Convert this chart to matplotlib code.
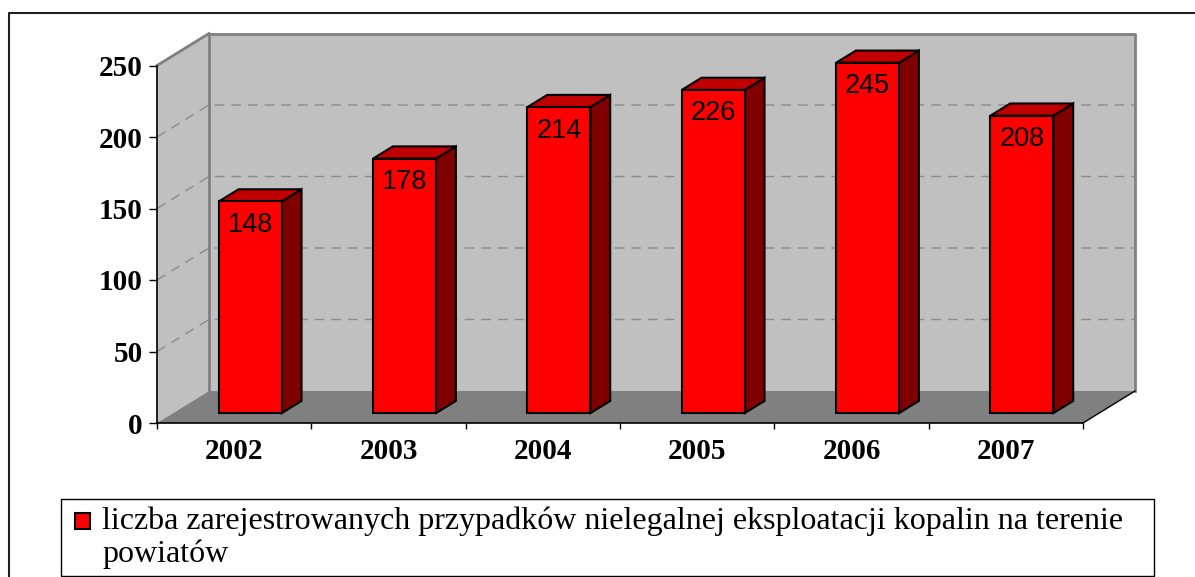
import matplotlib.pyplot as plt
from matplotlib.patches import Polygon, Rectangle
from matplotlib.lines import Line2D

years = ["2002", "2003", "2004", "2005", "2006", "2007"]
cases = [148, 178, 214, 226, 245, 208]
y_ticks = [0, 50, 100, 150, 200, 250]
legend_label = ("liczba zarejestrowanych przypadków nielegalnej eksploatacji kopalin na terenie\n"
                "powiatów")

W, H = 1195, 577
fig = plt.figure(figsize=(W / 100, H / 100), dpi=100)
ax = fig.add_axes([157 / W, 1 - 423 / H, 926 / W, 357.5 / H])
n = len(years)
top = y_ticks[-1]
ax.set_xlim(0, n)
ax.set_ylim(0, top)
ax.patch.set_visible(False)

# depth of the fake 3D box, in data units
DX = 52 / 926 * n
DY = 32 / 357.5 * top

# walls and floor
ax.add_patch(Polygon([(0, 0), (0, top), (DX, top + DY), (DX, DY)],
                     fc="#C0C0C0", ec="none", clip_on=False, zorder=1))
ax.add_patch(Polygon([(DX, DY), (DX, top + DY), (n + DX, top + DY), (n + DX, DY)],
                     fc="#C0C0C0", ec="none", clip_on=False, zorder=1))
ax.add_patch(Polygon([(0, 0), (DX, DY), (n + DX, DY), (n, 0)],
                     fc="#808080", ec="none", clip_on=False, zorder=1))
ax.plot([DX, DX, n + DX, n + DX], [DY, top + DY, top + DY, DY],
        color="#808080", lw=2, clip_on=False, zorder=2)
ax.plot([0, DX], [top, top + DY], color="#808080", lw=2, clip_on=False, zorder=2)
ax.plot([n, n + DX], [0, DY], color="black", lw=1, clip_on=False, zorder=2)

# dashed gridlines on side and back wall
for v in y_ticks[1:-1]:
    ax.plot([0, DX, n + DX], [v, v + DY, v + DY], color="#8C8C8C", lw=1,
            ls=(0, (7, 5)), clip_on=False, zorder=2)

# bars
f0, f1 = 0.31, 0.69
bw = 0.408
ddx, ddy = (f1 - f0) * DX, (f1 - f0) * DY
for i, v in enumerate(cases):
    x0 = i + 0.5 - bw / 2 + f0 * DX
    y0 = f0 * DY
    ax.add_patch(Polygon([(x0 + bw, y0), (x0 + bw, y0 + v), (x0 + bw + ddx, y0 + v + ddy),
                          (x0 + bw + ddx, y0 + ddy)],
                         fc="#800000", ec="black", lw=1.5, clip_on=False, zorder=3))
    ax.add_patch(Polygon([(x0, y0 + v), (x0 + bw, y0 + v), (x0 + bw + ddx, y0 + v + ddy),
                          (x0 + ddx, y0 + v + ddy)],
                         fc="#C00000", ec="black", lw=1.5, clip_on=False, zorder=3))
    ax.add_patch(Rectangle((x0, y0), bw, v, fc="#FF0000", ec="black", lw=1.5,
                           clip_on=False, zorder=4))
    ax.annotate(str(v), (x0 + bw / 2, y0 + v), xytext=(0, -22), textcoords="offset points",
                ha="center", va="baseline", fontsize=19.5, family="Liberation Sans",
                annotation_clip=False, zorder=5)

# axes
for s in ["top", "right"]:
    ax.spines[s].set_visible(False)
for s in ["left", "bottom"]:
    ax.spines[s].set_color("black")
    ax.spines[s].set_linewidth(1.2)
    ax.spines[s].set_zorder(3)

ax.set_yticks(y_ticks)
ax.set_yticklabels([str(t) for t in y_ticks], family="Liberation Serif",
                   fontweight="bold", fontsize=21)
ax.tick_params(axis="y", length=5.8, width=1, pad=4.3)
ax.set_xticks(range(n + 1))
ax.set_xticklabels([])
ax.tick_params(axis="x", which="major", length=4.5, width=1)
ax.set_xticks([i + 0.5 for i in range(n)], minor=True)
ax.set_xticklabels(years, minor=True, family="Liberation Serif",
                   fontweight="bold", fontsize=21)
ax.tick_params(axis="x", which="minor", length=0, pad=11)

# legend, drawn by hand so the marker sits on the first line
fig.add_artist(Rectangle((61 / W, 1 - 576 / H), (1154 - 61) / W, (576 - 499) / H,
                         transform=fig.transFigure, fc="white", ec="black", lw=1))
fig.add_artist(Rectangle((75 / W, 1 - 529 / H), 15 / W, 16 / H,
                         transform=fig.transFigure, fc="#FF0000", ec="black", lw=1.5))
for k, line in enumerate(legend_label.split("\n")):
    fig.text(102 / W, 1 - (529 + 33 * k) / H, line, ha="left", va="baseline",
             family="Liberation Serif", fontsize=23)

# outer chart frame
fig.add_artist(Line2D([9 / W, 9 / W, 1], [0, 1 - 13 / H, 1 - 13 / H],
                      transform=fig.transFigure, color="#202020", lw=1.5))

fig.savefig("out.png", dpi=100)
